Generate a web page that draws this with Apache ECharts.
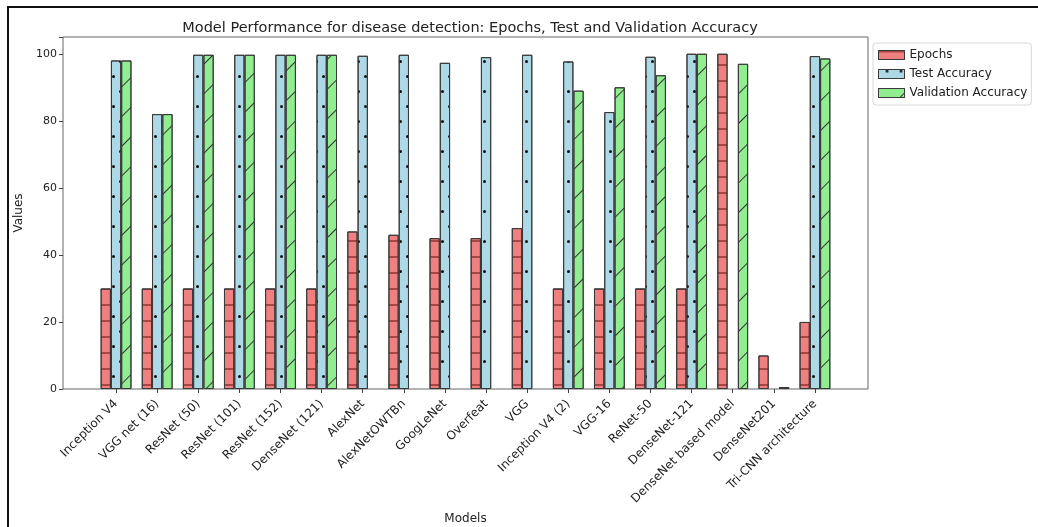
<!DOCTYPE html>
<html>
<head>
<meta charset="utf-8">
<script src="https://cdn.jsdelivr.net/npm/echarts@6/dist/echarts.min.js"></script>
<style>html,body{margin:0;padding:0;background:#fff;}#c{width:1038px;height:527px;}</style>
</head>
<body>
<div id="c"></div>
<script>
const categories = ["Inception V4","VGG net (16)","ResNet (50)","ResNet (101)","ResNet (152)","DenseNet (121)","AlexNet","AlexNetOWTBn","GoogLeNet","Overfeat","VGG","Inception V4 (2)","VGG-16","ReNet-50","DenseNet-121","DenseNet based model","DenseNet201","Tri-CNN architecture"];
const epochs = [30,30,30,30,30,30,47,46,45,45,48,30,30,30,30,100,10,20];
const testAccuracy = [98,82,99.7,99.7,99.7,99.7,99.4,99.7,97.3,99,99.7,97.7,82.6,99.1,100,null,null,99.3];
const validationAccuracy = [98,82,99.7,99.7,99.7,99.7,null,null,null,null,null,89,90,93.6,100,97,0.6,98.6];
const yTicks = [0,20,40,60,80,100];

const FONT = 'DejaVu Sans';
const chart = echarts.init(document.getElementById('c'), null, {renderer:'canvas'});
const edge = '#3a3a3a';
const option = {
  animation: false,
  textStyle: {fontFamily: FONT},
  title: {
    text: 'Model Performance for disease detection: Epochs, Test and Validation Accuracy',
    left: 465, top: 16, textAlign: 'center',
    textStyle: {fontFamily: FONT, fontSize: 14.5, fontWeight: 'normal', color: '#222'}
  },
  legend: {
    orient: 'vertical', left: 873, top: 43, icon: 'rect',
    data: ['Epochs','Test Accuracy','Validation Accuracy'],
    backgroundColor: '#fff', borderColor: '#d8d8d8', borderWidth: 1, borderRadius: 3,
    padding: [6, 4, 6, 5], itemGap: 7, itemWidth: 26, itemHeight: 9,
    itemStyle: {borderWidth: 1},
    textStyle: {fontFamily: FONT, fontSize: 12, color: '#222'}
  },
  grid: [
    {left: 63, top: 37, width: 805, height: 352, show: true, borderColor: '#666', borderWidth: 1, backgroundColor: 'transparent', containLabel: false, outerBoundsMode: 'none'},
    {left: 95.5, top: 37, width: 740, height: 352, containLabel: false, outerBoundsMode: 'none'}
  ],
  xAxis: [
    {type: 'value', gridIndex: 0, min: 0, max: 1, show: false},
    {type: 'category', gridIndex: 1, data: categories,
     name: 'Models', nameLocation: 'middle', nameGap: 124,
     nameTextStyle: {fontFamily: FONT, fontSize: 12, color: '#222'},
     axisLine: {show: false},
     axisTick: {show: true, alignWithLabel: true, length: 4, lineStyle: {color: '#444'}},
     axisLabel: {interval: 0, rotate: 45, fontFamily: FONT, fontSize: 12, color: '#222', margin: 13}
    }
  ],
  yAxis: [
    {type: 'value', gridIndex: 0, min: 0, max: 105, interval: 20,
     name: 'Values', nameLocation: 'middle', nameGap: 38,
     nameTextStyle: {fontFamily: FONT, fontSize: 12, color: '#222'},
     axisLine: {show: false}, splitLine: {show: false},
     axisTick: {show: true, length: 4, lineStyle: {color: '#444'}},
     axisLabel: {fontFamily: FONT, fontSize: 11, color: '#222', margin: 6,
       formatter: v => yTicks.includes(v) ? String(v) : ''}
    },
    {type: 'value', gridIndex: 1, min: 0, max: 105, show: false}
  ],
  series: [
    {name: 'Epochs', type: 'bar', xAxisIndex: 1, yAxisIndex: 1, data: epochs,
     barWidth: '25%', barGap: '0%',
     itemStyle: {color: '#F08080', borderColor: edge, borderWidth: 1,
       decal: {symbol: 'rect', symbolSize: 1, color: 'rgba(110,20,20,0.55)', dashArrayX: [1, 0], dashArrayY: [1.2, 13.8]}}
    },
    {name: 'Test Accuracy', type: 'bar', xAxisIndex: 1, yAxisIndex: 1, data: testAccuracy,
     barWidth: '25%', barGap: '0%',
     itemStyle: {color: '#ADD8E6', borderColor: edge, borderWidth: 1,
       decal: {symbol: 'circle', symbolSize: 1, color: '#111', dashArrayX: [[3, 11], [0, 7, 3, 4]], dashArrayY: [3, 12]}}
    },
    {name: 'Validation Accuracy', type: 'bar', xAxisIndex: 1, yAxisIndex: 1, data: validationAccuracy,
     barWidth: '25%', barGap: '0%',
     itemStyle: {color: '#90EE90', borderColor: edge, borderWidth: 1,
       decal: {symbol: 'rect', symbolSize: 1, color: '#333', dashArrayX: [1, 0], dashArrayY: [1, 19.5], rotation: -Math.PI / 4}}
    }
  ],
  graphic: [
    {type: 'line', shape: {x1: 7, y1: 7, x2: 1038, y2: 7}, style: {stroke: '#111', lineWidth: 2}},
    {type: 'line', shape: {x1: 8, y1: 6, x2: 8, y2: 527}, style: {stroke: '#111', lineWidth: 2}}
  ]
};
chart.setOption(option);
</script>
</body>
</html>
